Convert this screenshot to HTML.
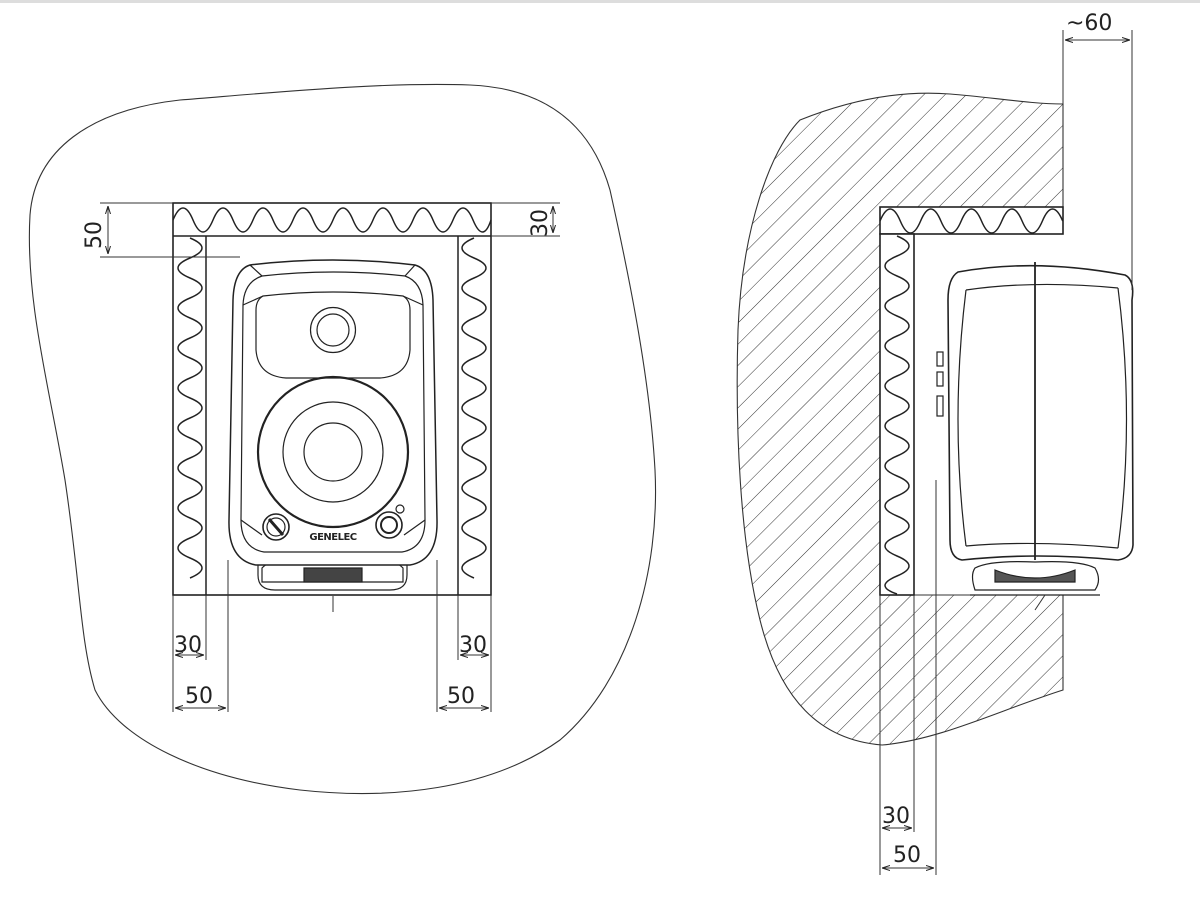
<!DOCTYPE html>
<html><head><meta charset="utf-8"><style>html,body{margin:0;padding:0;background:#fff}svg{display:block}text{font-family:"DejaVu Sans","Liberation Sans",sans-serif;fill:#222}</style></head><body>
<svg width="1200" height="920" viewBox="0 0 1200 920" xmlns="http://www.w3.org/2000/svg">
<defs>
<pattern id="h" patternUnits="userSpaceOnUse" width="15" height="15" patternTransform="rotate(45)"><line x1="0" y1="0" x2="0" y2="15" stroke="#333" stroke-width="1"/></pattern>
<marker id="a" markerWidth="8" markerHeight="6" refX="8" refY="3" orient="auto-start-reverse" markerUnits="userSpaceOnUse"><path d="M0,0.5 L8,3 L0,5.5" fill="none" stroke="#222" stroke-width="1"/></marker>
</defs>
<rect x="0" y="0" width="1200" height="3" fill="#ddd"/>
<path d="M30,215 C35,150 90,110 180,100 C280,92 380,82 470,85 C540,88 590,120 610,190 C630,280 650,380 655,470 C660,570 630,680 560,740 C490,790 390,800 300,790 C200,778 120,740 95,690 C80,640 80,580 65,480 C50,390 25,300 30,215 Z" fill="none" stroke="#333" stroke-width="1.1"/>
<rect x="173" y="203" width="318" height="392" fill="#fff" stroke="#222" stroke-width="1.6"/>
<g fill="none" stroke="#222" stroke-width="1.5">
<line x1="173" y1="236" x2="491" y2="236"/>
<line x1="206" y1="236" x2="206" y2="595"/>
<line x1="458" y1="236" x2="458" y2="595"/>
<path d="M173,220 q10,-24 20,0 t20,0 t20,0 t20,0 t20,0 t20,0 t20,0 t20,0 t20,0 t20,0 t20,0 t20,0 t20,0 t20,0 t20,0 t18,0"/>
<path d="M190,238 q24,10 0,20 t0,20 t0,20 t0,20 t0,20 t0,20 t0,20 t0,20 t0,20 t0,20 t0,20 t0,20 t0,20 t0,20 t0,20 t0,20 t0,20"/>
<path d="M474,238 q-24,10 0,20 t0,20 t0,20 t0,20 t0,20 t0,20 t0,20 t0,20 t0,20 t0,20 t0,20 t0,20 t0,20 t0,20 t0,20 t0,20 t0,20"/>
</g>
<g fill="none" stroke="#333" stroke-width="1">
<line x1="100" y1="203" x2="173" y2="203"/>
<line x1="100" y1="257" x2="240" y2="257"/>
<line x1="108" y1="206" x2="108" y2="254" marker-start="url(#a)" marker-end="url(#a)"/>
<line x1="491" y1="203" x2="560" y2="203"/>
<line x1="491" y1="236" x2="560" y2="236"/>
<line x1="553" y1="206" x2="553" y2="233" marker-start="url(#a)" marker-end="url(#a)"/>
<line x1="173" y1="595" x2="173" y2="712"/>
<line x1="206" y1="595" x2="206" y2="660"/>
<line x1="228" y1="560" x2="228" y2="712"/>
<line x1="437" y1="560" x2="437" y2="712"/>
<line x1="458" y1="595" x2="458" y2="660"/>
<line x1="491" y1="595" x2="491" y2="712"/>
<line x1="175" y1="655" x2="204" y2="655" marker-start="url(#a)" marker-end="url(#a)"/>
<line x1="175" y1="708" x2="226" y2="708" marker-start="url(#a)" marker-end="url(#a)"/>
<line x1="460" y1="655" x2="489" y2="655" marker-start="url(#a)" marker-end="url(#a)"/>
<line x1="439" y1="708" x2="489" y2="708" marker-start="url(#a)" marker-end="url(#a)"/>
<line x1="333" y1="596" x2="333" y2="612"/>
</g>
<text x="174" y="652" font-size="22">30</text>
<text x="185" y="703" font-size="22">50</text>
<text x="459" y="652" font-size="22">30</text>
<text x="447" y="703" font-size="22">50</text>
<text transform="translate(101,249) rotate(-90)" font-size="22">50</text>
<text transform="translate(547,237) rotate(-90)" font-size="22">30</text>
<g fill="none" stroke="#222" stroke-width="1.2">
<path d="M258,556 L258,575 Q258,590 275,590 L390,590 Q407,590 407,575 L407,556"/>
<path d="M262,568 Q275,555 295,560 L370,560 Q390,555 403,568 L403,582 L262,582 Z"/>
<rect x="304" y="568" width="58" height="14" fill="#444"/>
<path d="M250,265 Q333,255 415,265 Q432,270 433,300 L437,520 Q438,560 410,565 L256,565 Q228,560 229,520 L233,300 Q234,270 250,265 Z" fill="#fff" stroke-width="1.5"/>
<path d="M262,276 Q333,268 405,276 Q422,282 423,305 L425,520 Q425,548 402,552 L264,552 Q241,548 241,520 L243,305 Q244,282 262,276 Z"/>
<path d="M263,296 Q333,288 403,296 Q410,300 410,310 L410,350 Q408,376 380,378 L286,378 Q258,376 256,350 L256,310 Q256,300 263,296 Z"/>
<circle cx="333" cy="330" r="22.5"/>
<circle cx="333" cy="330" r="16"/>
<circle cx="333" cy="452" r="75" stroke-width="2.2"/>
<circle cx="333" cy="452" r="50"/>
<circle cx="333" cy="452" r="29"/>
<circle cx="276" cy="527" r="13" stroke-width="1.6"/>
<circle cx="276" cy="527" r="9"/>
<line x1="269" y1="519" x2="283" y2="535" stroke-width="3"/>
<circle cx="389" cy="525" r="13" stroke-width="1.6"/>
<circle cx="389" cy="525" r="8" stroke-width="2"/>
<circle cx="400" cy="509" r="4"/>
<path d="M243,305 L263,296 M423,305 L403,296 M241,520 L262,535 M425,520 L404,535 M262,276 L250,265 M405,276 L415,265"/>
</g>
<text x="333" y="540" font-size="10" font-weight="bold" text-anchor="middle" style="letter-spacing:-0.5px">GENELEC</text>
<path d="M1063,104 L1063,207 L880,207 L880,595 L1063,595 L1063,690 C1000,710 940,740 882,745 C820,740 780,700 760,620 C740,540 735,430 738,330 C742,230 770,150 800,120 C850,100 900,90 950,94 C990,97 1030,104 1063,104 Z" fill="url(#h)" stroke="#333" stroke-width="1.1"/>
<rect x="880" y="207" width="183" height="27" fill="#fff" stroke="#222" stroke-width="1.6"/>
<rect x="880" y="234" width="34" height="361" fill="#fff" stroke="#222" stroke-width="1.6"/>
<g fill="none" stroke="#222" stroke-width="1.5">
<path d="M880,221 q10.15,-24 20.3,0 t20.3,0 t20.3,0 t20.3,0 t20.3,0 t20.3,0 t20.3,0 t20.3,0 t20.3,0"/>
<path d="M897,236 q24,10 0,20 t0,20 t0,20 t0,20 t0,20 t0,20 t0,20 t0,20 t0,20 t0,20 t0,20 t0,20 t0,20 t0,20 t0,20 t0,20 t0,20 t0,18"/>
</g>
<g fill="none" stroke="#222" stroke-width="1.2">
<path d="M975,568 Q970,575 975,590 L1095,590 Q1102,580 1095,568 Q1080,560 1035,562 Q990,560 975,568 Z" fill="#fff"/>
<path d="M995,570 Q1035,586 1075,570 L1075,582 L995,582 Z" fill="#555"/>
<line x1="970" y1="595" x2="1100" y2="595"/>
<path d="M958,272 Q1035,258 1125,275 Q1135,280 1132,300 L1133,545 Q1132,558 1118,560 Q1035,552 962,560 Q950,558 950,540 L948,300 Q948,278 958,272 Z" fill="#fff" stroke-width="1.6"/>
<path d="M966,290 Q1035,280 1118,288 M966,546 Q1035,540 1118,548 M966,290 Q950,420 966,546 M1118,288 Q1135,420 1118,548"/>
<line x1="1035" y1="262" x2="1035" y2="560" stroke-width="1.8"/>
<rect x="937" y="352" width="6" height="14"/><rect x="937" y="372" width="6" height="14"/><rect x="937" y="396" width="6" height="20"/>
</g>
<g fill="none" stroke="#333" stroke-width="1">
<line x1="880" y1="595" x2="880" y2="875"/>
<line x1="914" y1="595" x2="914" y2="832"/>
<line x1="936" y1="480" x2="936" y2="875"/>
<line x1="882" y1="828" x2="912" y2="828" marker-start="url(#a)" marker-end="url(#a)"/>
<line x1="882" y1="868" x2="934" y2="868" marker-start="url(#a)" marker-end="url(#a)"/>
<line x1="1063" y1="30" x2="1063" y2="104"/>
<line x1="1132" y1="30" x2="1132" y2="290"/>
<line x1="1065" y1="40" x2="1130" y2="40" marker-start="url(#a)" marker-end="url(#a)"/>
<line x1="1045" y1="595" x2="1035" y2="610"/>
</g>
<text x="882" y="823" font-size="22">30</text>
<text x="893" y="862" font-size="22">50</text>
<text x="1066" y="30" font-size="22">~60</text>
</svg>
</body></html>
